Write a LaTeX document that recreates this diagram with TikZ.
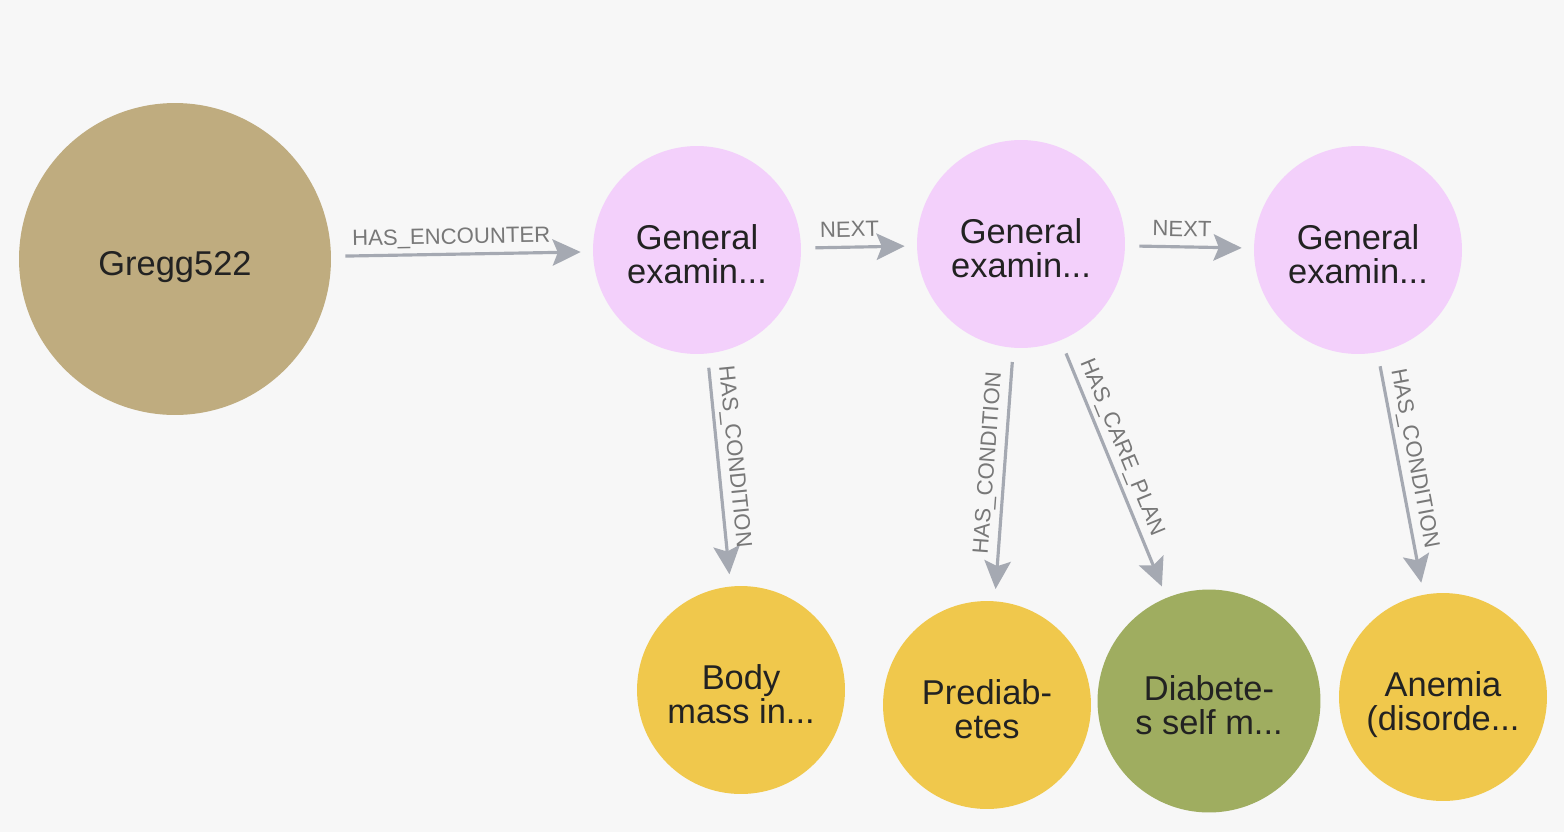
\documentclass[tikz,border=0pt]{standalone}
\usepackage{fontspec}
\setmainfont{Liberation Sans}
\usetikzlibrary{arrows.meta}
\definecolor{bg}{HTML}{F7F7F7}
\definecolor{patientfill}{HTML}{BFAC7F}
\definecolor{encfill}{HTML}{F3D0FB}
\definecolor{condfill}{HTML}{F0C84C}
\definecolor{planfill}{HTML}{9FAD60}
\definecolor{nodetext}{HTML}{222222}
\definecolor{relgray}{HTML}{A5A9B2}
\definecolor{labelgray}{HTML}{787878}
\tikzstyle{item}=[circle,inner sep=0pt,align=center,text=nodetext,font=\fontsize{19.6}{19.3}\selectfont,text depth=0pt,text height=38pt]
\tikzstyle{patient}=[item,fill=patientfill,minimum size=6.24cm,text height=19.3pt]
\tikzstyle{encounter}=[item,fill=encfill,minimum size=4.16cm]
\tikzstyle{condition}=[item,fill=condfill,minimum size=4.16cm]
\tikzstyle{careplan}=[item,fill=planfill,minimum size=4.46cm]
\tikzstyle{rel}=[-{Stealth[length=16pt,width=15pt,inset=3pt]},line width=1.8pt,draw=relgray,shorten <=0.28cm,shorten >=0.24cm]
\tikzstyle{rellabel}=[sloped,above,font=\fontsize{12.6}{14}\selectfont,text=labelgray,inner xsep=0pt,inner ysep=5pt,text depth=0pt]
\begin{document}
\begin{tikzpicture}[x=0.02cm,y=-0.02cm]

\path [fill=bg] (0,0) rectangle (1564,832) ;

\node (gregg) [patient] at (175,259) {Gregg522} ;
\node (enc1) [encounter] at (697,250) {General\\examin...} ;
\node (enc2) [encounter] at (1021,244) {General\\examin...} ;
\node (enc3) [encounter] at (1358,250) {General\\examin...} ;

\draw [rel] (gregg) -- node [rellabel,pos=0.46] {HAS\_ENCOUNTER} (enc1) ;
\draw [rel] (enc1) -- node [rellabel,pos=0.42] {NEXT} (enc2) ;
\draw [rel] (enc2) -- node [rellabel,pos=0.44] {NEXT} (enc3) ;

\node (bmi) [condition] at (741,690) {Body\\mass in...} ;
\node (prediab) [condition] at (987,705) {Prediab-\\etes} ;
\node (diab) [careplan] at (1209,701) {Diabete-\\s self m...} ;
\node (anemia) [condition] at (1443,697) {Anemia\\(disorde...} ;

\draw [rel] (enc1) -- node [rellabel,pos=0.45] {HAS\_CONDITION} (bmi) ;
\draw [rel] (enc2) -- node [rellabel,pos=0.46] {HAS\_CONDITION} (prediab) ;
\draw [rel] (enc2) -- node [rellabel,pos=0.44] {HAS\_CARE\_PLAN} (diab) ;
\draw [rel] (enc3) -- node [rellabel,pos=0.45] {HAS\_CONDITION} (anemia) ;

\end{tikzpicture}
\end{document}
